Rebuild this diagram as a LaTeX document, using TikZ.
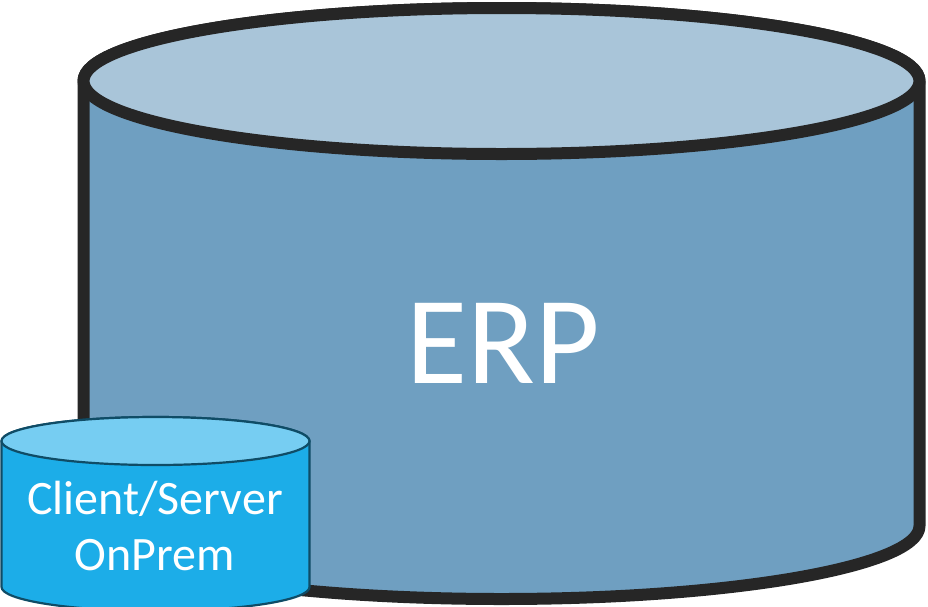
\documentclass[tikz,border=0pt]{standalone}
\usepackage{fontspec}
\setmainfont{Carlito}
\definecolor{bigbody}{HTML}{6F9FC1}
\definecolor{bigtop}{HTML}{A9C5D9}
\definecolor{bigline}{HTML}{262626}
\definecolor{smallbody}{HTML}{1CADE8}
\definecolor{smalltop}{HTML}{76CDF2}
\definecolor{smallline}{HTML}{0F4C66}
\tikzset{
  bigshape/.style={draw=bigline,line width=12pt,line join=round},
  smallshape/.style={draw=smallline,line width=2.2pt,line join=round},
  lbl/.style={text=white,inner sep=0pt,align=center}
}
\begin{document}
\begin{tikzpicture}[x=1pt,y=-1pt]
\useasboundingbox (0,0) rectangle (928,606);
\begin{scope}
\clip (0,0) rectangle (928,606);
\draw[bigshape,fill=bigbody] (83.5,81) -- (83.5,526) arc[start angle=180,end angle=0,x radius=418,y radius=73] -- (919.5,81) arc[start angle=0,end angle=-180,x radius=418,y radius=73] -- cycle;
\draw[bigshape,fill=bigtop] (501.5,81) ellipse[x radius=418,y radius=73];
\node[lbl,font=\fontsize{125}{125}\selectfont] (erp) at (503.5,343) {ERP};
\draw[smallshape,fill=smallbody] (1.5,441) -- (1.5,587) arc[start angle=180,end angle=0,x radius=154,y radius=24] -- (309.5,441) arc[start angle=0,end angle=-180,x radius=154,y radius=24] -- cycle;
\draw[smallshape,fill=smalltop] (155.5,441) ellipse[x radius=154,y radius=24];
\node[lbl,font=\fontsize{48}{56}\selectfont] (cs) at (155,526) {Client/Server\\OnPrem};
\end{scope}
\end{tikzpicture}
\end{document}
